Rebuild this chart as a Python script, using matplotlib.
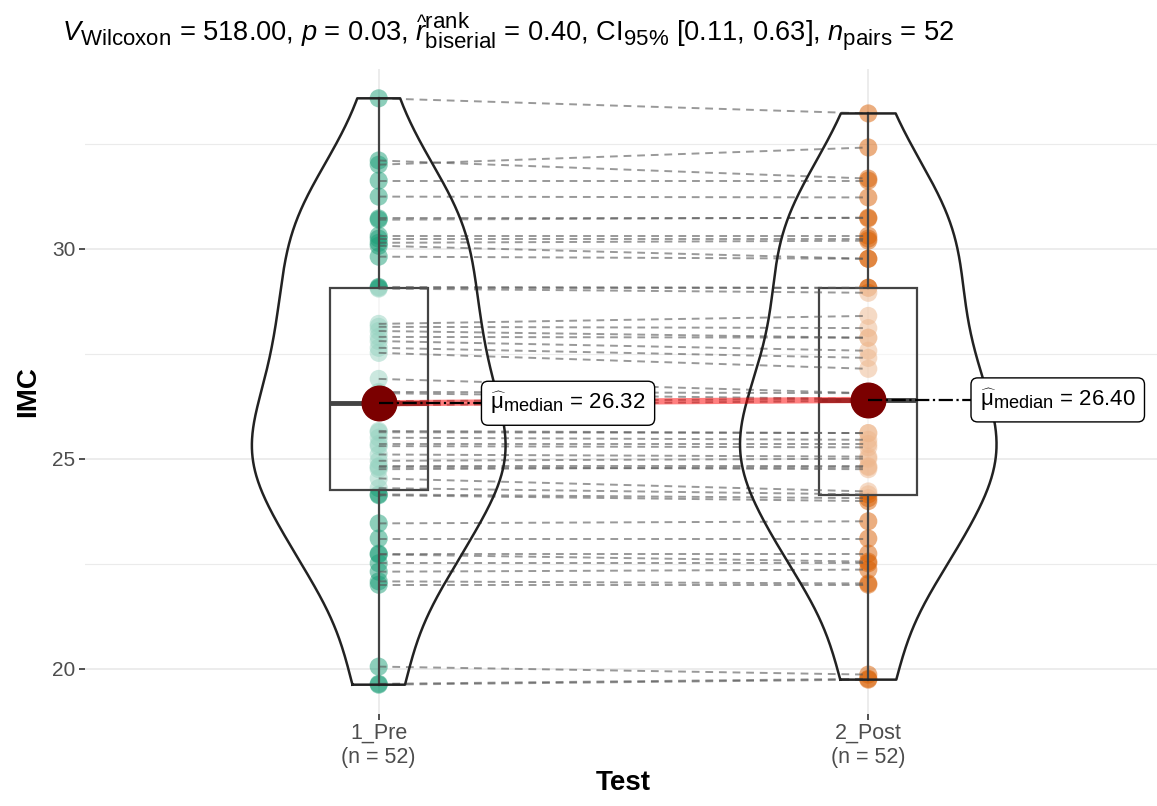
import numpy as np
import matplotlib.pyplot as plt
import matplotlib._mathtext as mt
from matplotlib.ticker import MultipleLocator

plt.rcParams['font.family'] = ['Liberation Sans', 'DejaVu Sans']
plt.rcParams['mathtext.fontset'] = 'custom'
plt.rcParams['mathtext.rm'] = 'Liberation Sans'
plt.rcParams['mathtext.it'] = 'Liberation Sans:italic'
plt.rcParams['mathtext.bf'] = 'Liberation Sans:bold'
mt.SHRINK_FACTOR = 0.82  # індекси більші, як у plotmath

# Дані (IMC до і після), пари
groups = ['1_Pre', '2_Post']
pre = [33.58, 32.10, 32.00, 31.62, 31.24, 30.72, 30.69, 30.31, 30.24, 30.14,
       30.07, 29.81, 29.09, 29.07, 29.05, 28.21, 28.04, 27.90, 27.80, 27.64,
       27.52, 26.90, 26.59, 26.56, 26.37, 28.14, 26.27,
       25.66, 25.63, 25.35, 25.30, 24.82, 24.80, 24.75, 24.53, 24.30, 24.15,
       24.13, 23.46, 23.10, 22.74, 22.72, 22.51, 22.31, 22.08, 22.00, 20.05,
       19.64, 19.62, 25.10, 24.95, 25.50]
post = [33.22, 31.67, 32.41, 31.62, 31.22, 30.72, 30.74, 30.31, 30.24, 30.19,
        29.76, 29.76, 29.07, 29.07, 28.95, 28.40, 27.88, 27.88, 27.57, 27.40,
        27.14, 26.56, 26.56, 26.42, 26.42, 28.11, 26.38,
        25.61, 25.61, 25.35, 25.27, 24.82, 24.75, 24.80, 24.22, 24.15, 24.06,
        23.99, 23.51, 23.10, 22.74, 22.55, 22.51, 22.36, 22.03, 22.00, 19.86,
        19.76, 19.74, 25.05, 25.00, 25.45]
medians = [26.32, 26.40]
title = (r"$V_{\mathrm{Wilcoxon}}$ = 518.00, $p$ = 0.03, "
         r"$\widehat{r}_{\mathrm{biserial}}^{\mathrm{rank}}$ = 0.40, "
         r"CI$_{95\%}$ [0.11, 0.63], $n_{\mathrm{pairs}}$ = 52")

colors = ['#1B9E77', '#D95F02']
data = [np.array(pre), np.array(post)]

fig = plt.figure(figsize=(11.57, 8.06), dpi=100)
ax = fig.add_axes([85 / 1157, 92 / 806, 1077 / 1157, 645 / 806])

# Лінії між парами
for a, b in zip(pre, post):
    ax.plot([1, 2], [a, b], color='#555555', alpha=0.6, lw=1.4,
            linestyle=(0, (4, 3)), zorder=4)

# Точки
for i, vals in enumerate(data):
    ax.scatter(np.full(len(vals), i + 1), vals, s=170, color=colors[i],
               alpha=0.5, edgecolors='none', zorder=2)

# Боксплот
bp = ax.boxplot(data, positions=[1, 2], widths=0.2, patch_artist=True,
                showcaps=False, showfliers=False, whis=(0, 100), zorder=3)
for box in bp['boxes']:
    box.set_facecolor((1, 1, 1, 0.55))
    box.set_edgecolor('#444444')
    box.set_linewidth(1.6)
for w in bp['whiskers']:
    w.set_color('#444444')
    w.set_linewidth(1.6)
    w.set_zorder(4)
for m in bp['medians']:
    m.set_color('#444444')
    m.set_linewidth(3.5)

# Скрипки (KDE, bw.nrd0, обрізані по даних)
dens = []
for vals in data:
    n = len(vals)
    iqr = np.subtract(*np.percentile(vals, [75, 25]))
    bw = 0.9 * min(vals.std(ddof=1), iqr / 1.34) * n ** -0.2
    grid = np.linspace(vals.min(), vals.max(), 512)
    d = np.exp(-0.5 * ((grid[:, None] - vals[None, :]) / bw) ** 2).sum(1)
    d /= n * bw * np.sqrt(2 * np.pi)
    dens.append((grid, d))
dmax = max(d.max() for _, d in dens)
for i, (grid, d) in enumerate(dens):
    hw = d / dmax * 0.262
    xs = np.concatenate([i + 1 - hw, (i + 1 + hw)[::-1], [i + 1 - hw[0]]])
    ys = np.concatenate([grid, grid[::-1], [grid[0]]])
    ax.plot(xs, ys, color='#222222', lw=1.8, zorder=5)

# Медіани
ax.plot([1, 2], medians, color='red', alpha=0.5, lw=4.5, zorder=6)
ax.scatter([1, 2], medians, s=620, color='#7B0000', zorder=7)
label_x = [1.228, 2.228]
for i, m in enumerate(medians):
    ax.plot([i + 1, label_x[i]], [m, m], color='black', lw=1.6,
            linestyle='-.', zorder=8)
    ax.text(label_x[i], m, r"$\widehat{\mathrm{\mu}}_{\mathrm{median}}$ = " + f"{m:.2f}",
            fontsize=16, va='center', ha='left', zorder=9,
            bbox=dict(boxstyle='round,pad=0.4,rounding_size=0.3', fc='white',
                      ec='black', lw=1.0))

# Оформлення
lo, hi = min(pre + post), max(pre + post)
ax.set_ylim(lo - 0.05 * (hi - lo), hi + 0.05 * (hi - lo))
ax.set_xlim(0.4, 2.6)
ax.yaxis.set_major_locator(MultipleLocator(5))
ax.yaxis.set_minor_locator(MultipleLocator(2.5))
ax.set_xticks([1, 2])
ax.set_xticklabels([f"{g}\n(n = {len(v)})" for g, v in zip(groups, data)])
ax.grid(which='major', color='#EBEBEB', lw=1.3)
ax.grid(which='minor', axis='y', color='#EBEBEB', lw=0.8)
ax.set_axisbelow(True)
for s in ax.spines.values():
    s.set_visible(False)
ax.tick_params(axis='both', which='major', length=4, width=1.2, color='#333333',
               labelsize=15, labelcolor='#4D4D4D', pad=3)
ax.tick_params(axis='x', which='major', labelsize=15.5, pad=2)
ax.tick_params(axis='y', which='minor', length=0)
ax.set_xlabel('Test', fontsize=20, fontweight='bold', labelpad=2)
ax.set_ylabel('IMC', fontsize=20, fontweight='bold', labelpad=8)
fig.text(62 / 1157, 1 - 32 / 806, title, fontsize=19.6, va='center', ha='left')

fig.savefig('out.png', dpi=100)
